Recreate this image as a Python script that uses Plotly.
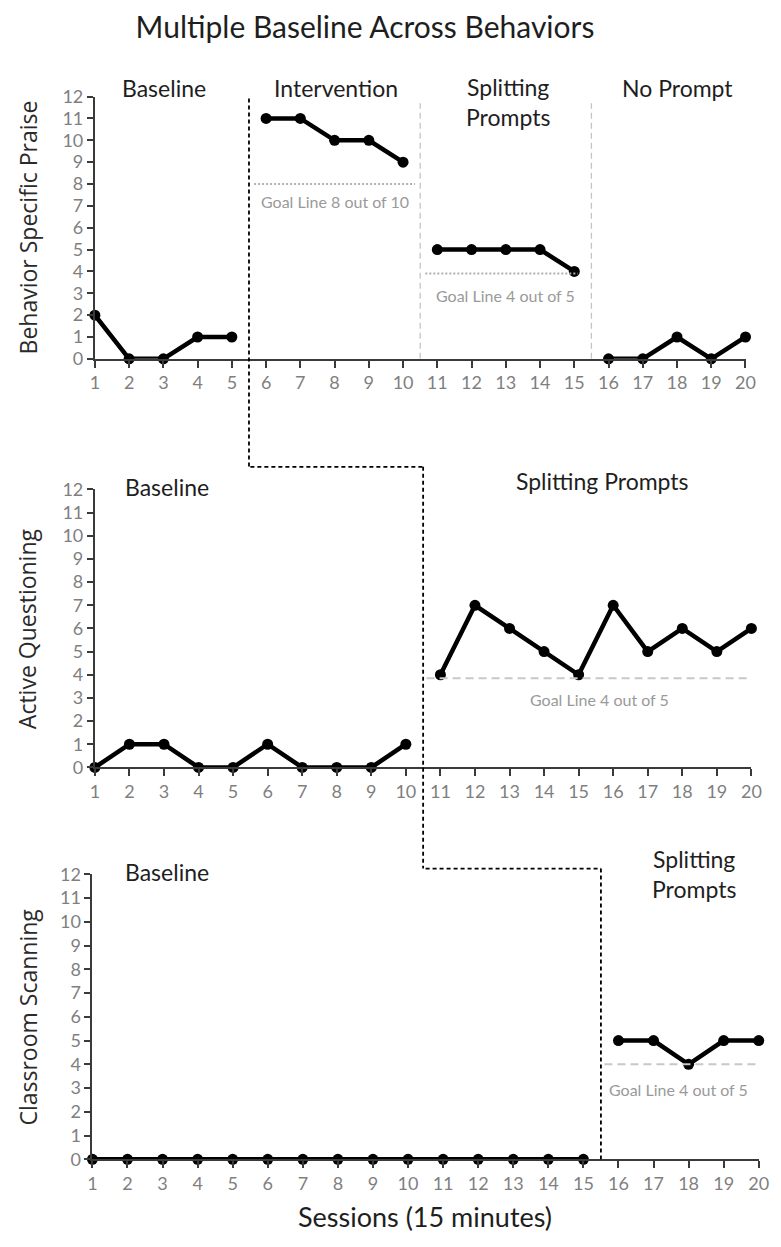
import plotly.graph_objects as go

# ---------------- data ----------------
sessions = list(range(1, 21))
tick_labels = [str(s) for s in sessions]
y_ticks = list(range(0, 13))
y_max = 12

praise_values = [2, 0, 0, 1, 1, 11, 11, 10, 10, 9, 5, 5, 5, 5, 4, 0, 0, 1, 0, 1]
praise_phases = [(1, 5), (6, 10), (11, 15), (16, 20)]
praise_phase_names = ["Baseline", "Intervention", "Splitting<br>Prompts", "No Prompt"]
praise_phase_label_x = [3.02, 8.05, 13.05, 18.0]
praise_phase_label_y = [12.4, 12.4, 11.75, 12.4]
phase_change_points = [5.5, 10.5, 15.5]

question_values = [0, 1, 1, 0, 0, 1, 0, 0, 0, 1, 4, 7, 6, 5, 4, 7, 5, 6, 5, 6]
question_phases = [(1, 10), (11, 20)]
question_phase_names = ["Baseline", "Splitting Prompts"]
question_phase_label_x = [3.1, 15.7]
question_phase_label_y = [12.12, 12.37]

scan_values = [0, 0, 0, 0, 0, 0, 0, 0, 0, 0, 0, 0, 0, 0, 0, 5, 5, 4, 5, 5]
scan_phases = [(1, 15), (16, 20)]
scan_phase_names = ["Baseline", "Splitting<br>Prompts"]
scan_phase_label_x = [3.13, 18.15]
scan_phase_label_y = [12.12, 12.02]

# goal lines
goal_praise_1 = dict(value=8, x0=5.65, x1=10.35, label="Goal Line 8 out of 10", lx=8.0, ly=7.2)
goal_praise_2 = dict(value=3.9, x0=10.65, x1=15.1, label="Goal Line 4 out of 5", lx=13.0, ly=2.9)
goal_question = dict(value=3.85, x0=10.6, x1=20, label="Goal Line 4 out of 5", lx=15.6, ly=2.95)
goal_scan = dict(value=4, x0=15.6, x1=20, label="Goal Line 4 out of 5", lx=17.7, ly=2.95)

# ---------------- layout helpers ----------------
OFF = 8             # default page body margin
FW, FH = 773, 1231  # figure size so that the page fits the 781x1247 window


def px_x(s):
    return (s - OFF) / FW


def px_y(s):
    return 1 - (s - OFF) / FH


FONT = "Lato"
AXIS_COLOR = "#3a3a3a"
TICK_COLOR = "#7f7f7f"

fig = go.Figure()

panels = [
    dict(xa="x", ya="y", values=praise_values, phases=praise_phases),
    dict(xa="x2", ya="y2", values=question_values, phases=question_phases),
    dict(xa="x3", ya="y3", values=scan_values, phases=scan_phases),
]

for p in panels:
    for (a, b) in p["phases"]:
        xs = sessions[a - 1:b]
        ys = p["values"][a - 1:b]
        fig.add_trace(go.Scatter(
            x=xs, y=ys, xaxis=p["xa"], yaxis=p["ya"], mode="lines+markers",
            line=dict(color="black", width=4.5),
            marker=dict(color="black", size=11, symbol="circle"),
            cliponaxis=False, showlegend=False, hoverinfo="skip"))


def add_goal(g, xa, ya, dash, color, width):
    fig.add_trace(go.Scatter(
        x=[g["x0"], g["x1"]], y=[g["value"], g["value"]], xaxis=xa, yaxis=ya,
        mode="lines", line=dict(color=color, width=width, dash=dash),
        showlegend=False, hoverinfo="skip"))
    fig.add_annotation(x=g["lx"], y=g["ly"], xref=xa, yref=ya, text=g["label"],
                       showarrow=False, xanchor="center", yanchor="middle",
                       font=dict(family=FONT, size=16, color="#9a9a9a"))


add_goal(goal_praise_1, "x", "y", "2px,2px", "#b0b0b0", 2)
add_goal(goal_praise_2, "x", "y", "2px,2px", "#b0b0b0", 2)
add_goal(goal_question, "x2", "y2", "8px,5px", "#c8c8c8", 2)
add_goal(goal_scan, "x3", "y3", "8px,5px", "#c8c8c8", 2)

# domains (screen pixel positions -> paper)
x_domains = [(91.5, 755), (91.5, 761), (89, 768.5)]
y_domains = [(353, 86), (769, 486), (1168, 878)]

axis_common = dict(showgrid=False, zeroline=False, showline=True, linecolor=AXIS_COLOR,
                   linewidth=2, ticks="outside", tickcolor=AXIS_COLOR, tickwidth=2,
                   tickfont=dict(family=FONT, size=18, color=TICK_COLOR))

for i, (xd, yd) in enumerate(zip(x_domains, y_domains)):
    sfx = "" if i == 0 else str(i + 1)
    fig.layout["xaxis" + sfx] = dict(
        domain=[px_x(xd[0]), px_x(xd[1])], range=[1, 20], tickvals=sessions,
        ticktext=tick_labels, ticklen=7, anchor="y" + sfx, **axis_common)
    fig.layout["yaxis" + sfx] = dict(
        domain=[px_y(yd[0]), px_y(yd[1])], range=[0, y_max], tickvals=y_ticks,
        ticklen=6, anchor="x" + sfx, **axis_common)

# phase labels (placed in axis-domain units so they can sit above the top tick)
label_font = dict(family=FONT, size=23, color="#1e1e1e")
for names, lxs, lys, xa, ya in [
    (praise_phase_names, praise_phase_label_x, praise_phase_label_y, "x", "y"),
    (question_phase_names, question_phase_label_x, question_phase_label_y, "x2", "y2"),
    (scan_phase_names, scan_phase_label_x, scan_phase_label_y, "x3", "y3"),
]:
    for name, lx, ly in zip(names, lxs, lys):
        fig.add_annotation(x=lx, y=ly / y_max, xref=xa, yref=ya + " domain", text=name,
                           showarrow=False, yanchor="middle", xanchor="center",
                           font=label_font)

# y-axis titles
y_titles = ["Behavior Specific Praise", "Active Questioning", "Classroom Scanning"]
for i, t in enumerate(y_titles):
    sfx = "" if i == 0 else str(i + 1)
    fig.add_annotation(x=px_x(23), y=0.5, xref="paper", yref="y" + sfx + " domain",
                       text=t, textangle=-90, showarrow=False,
                       xanchor="center", yanchor="middle",
                       font=dict(family="Open Sans", size=23, color="#2a2a2a"))

# x-axis title
fig.add_annotation(x=px_x(428), y=px_y(1226), xref="paper", yref="paper",
                   text="Sessions (15 minutes)", showarrow=False,
                   xanchor="center", yanchor="middle",
                   font=dict(family=FONT, size=27, color="#1e1e1e"))

# phase change lines (multiple baseline staircase)
dash_black = dict(color="black", width=1.8, dash="4px,3px")
conn1 = px_y(463)
conn2 = px_y(872)
top1 = px_y(88)
fig.add_shape(type="line", xref="x", yref="paper", x0=phase_change_points[0], x1=phase_change_points[0],
              y0=top1, y1=conn1, line=dash_black)
fig.add_shape(type="line", xref="x2", yref="paper", x0=phase_change_points[0], x1=phase_change_points[1],
              y0=conn1, y1=conn1, line=dash_black)
fig.add_shape(type="line", xref="x2", yref="paper", x0=phase_change_points[1], x1=phase_change_points[1],
              y0=conn1, y1=conn2, line=dash_black)
fig.add_shape(type="line", xref="x3", yref="paper", x0=phase_change_points[1], x1=phase_change_points[2],
              y0=conn2, y1=conn2, line=dash_black)
fig.add_shape(type="line", xref="x3", yref="paper", x0=phase_change_points[2], x1=phase_change_points[2],
              y0=conn2, y1=px_y(1168), line=dash_black)

# light gray phase lines in top panel
for cp in phase_change_points[1:]:
    fig.add_shape(type="line", xref="x", yref="y", x0=cp, x1=cp, y0=0, y1=11.7,
                  line=dict(color="#c4c4c4", width=1.3, dash="6px,4px"))

fig.update_layout(
    width=FW, height=FH,
    margin=dict(l=0, r=0, t=0, b=0),
    paper_bgcolor="white", plot_bgcolor="white",
    title=dict(text="Multiple Baseline Across Behaviors", x=px_x(365), y=px_y(27),
               xanchor="center", yanchor="middle",
               font=dict(family=FONT, size=30, color="#1e1e1e")),
    showlegend=False,
)

fig.write_html("out.html")
